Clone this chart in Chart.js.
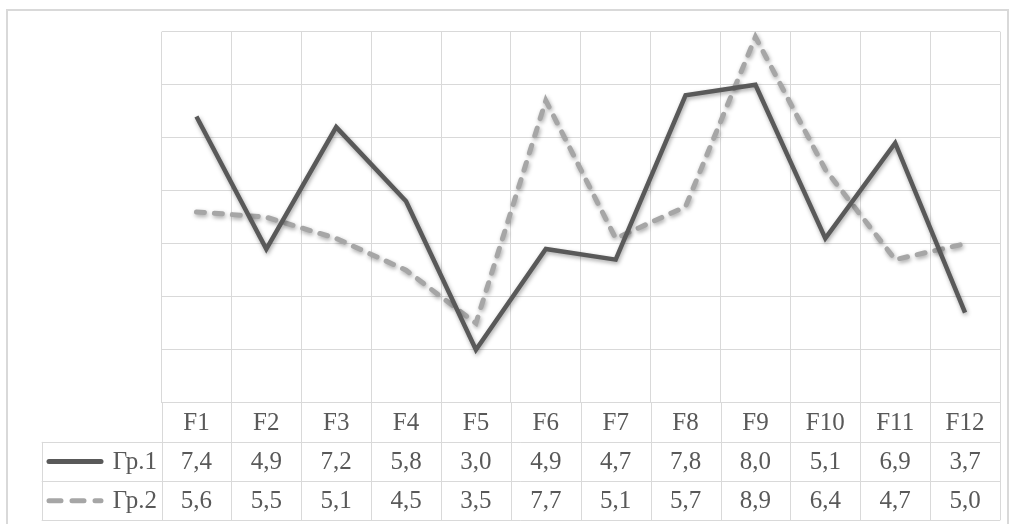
<!DOCTYPE html>
<html>
<head>
<meta charset="utf-8">
<script src="https://cdn.jsdelivr.net/npm/chart.js@4/dist/chart.umd.min.js"></script>
<style>
  html, body { margin: 0; padding: 0; background: #fff; }
  canvas { display: block; }
</style>
</head>
<body>
<canvas id="chart" width="1009" height="524"></canvas>
<script>
// категории и значения
const categories = ['F1', 'F2', 'F3', 'F4', 'F5', 'F6', 'F7', 'F8', 'F9', 'F10', 'F11', 'F12'];
const group1 = [7.4, 4.9, 7.2, 5.8, 3.0, 4.9, 4.7, 7.8, 8.0, 5.1, 6.9, 3.7];
const group2 = [5.6, 5.5, 5.1, 4.5, 3.5, 7.7, 5.1, 5.7, 8.9, 6.4, 4.7, 5.0];
const seriesNames = ['Гр.1', 'Гр.2'];

const gridColor = '#d9d9d9';
const textColor = '#595959';
const fontFamily = '"Liberation Serif", "Times New Roman", serif';

function fmt(v) {
    return v.toFixed(1).replace('.', ',');
}

// тень под линиями
const shadowPlugin = {
    id: 'lineShadow',
    beforeDatasetDraw(chart) {
        const ctx = chart.ctx;
        ctx.save();
        ctx.shadowColor = 'rgba(0,0,0,0.35)';
        ctx.shadowBlur = 4;
        ctx.shadowOffsetX = 1;
        ctx.shadowOffsetY = 2;
    },
    afterDatasetDraw(chart) {
        chart.ctx.restore();
    }
};

// таблица данных под графиком + рамка
const tablePlugin = {
    id: 'dataTable',
    afterDraw(chart) {
        const ctx = chart.ctx;
        const area = chart.chartArea;
        const xs = chart.scales.x;
        const n = categories.length;
        const step = (area.right - area.left) / n;
        const rowH = 39.2;
        const top = area.bottom;
        const legendLeft = 41.7;

        ctx.save();
        ctx.strokeStyle = gridColor;
        ctx.lineWidth = 1;

        // горизонтальные линии
        for (let r = 1; r <= 3; r++) {
            const y = Math.round(top + r * rowH) + 0.5;
            ctx.beginPath();
            ctx.moveTo(legendLeft, y);
            ctx.lineTo(area.right, y);
            ctx.stroke();
        }
        // вертикальные линии
        for (let i = 0; i <= n; i++) {
            const x = Math.round(area.left + i * step) + 0.5;
            ctx.beginPath();
            ctx.moveTo(x, top);
            ctx.lineTo(x, top + 3 * rowH);
            ctx.stroke();
        }
        ctx.beginPath();
        ctx.moveTo(Math.round(legendLeft) + 0.5, top + rowH);
        ctx.lineTo(Math.round(legendLeft) + 0.5, top + 3 * rowH);
        ctx.stroke();

        // текст
        ctx.fillStyle = textColor;
        ctx.font = '25px ' + fontFamily;
        ctx.textAlign = 'center';
        ctx.textBaseline = 'middle';
        categories.forEach((c, i) => {
            const x = xs.getPixelForValue(i);
            ctx.fillText(c, x, top + rowH * 0.5 + 1);
            ctx.fillText(fmt(group1[i]), x, top + rowH * 1.5 + 1);
            ctx.fillText(fmt(group2[i]), x, top + rowH * 2.5 + 1);
        });

        // легенда в таблице
        ctx.textAlign = 'right';
        ctx.fillText(seriesNames[0], 157, top + rowH * 1.5 + 1);
        ctx.fillText(seriesNames[1], 157, top + rowH * 2.5 + 1);

        ctx.lineCap = 'round';
        ctx.lineWidth = 5;
        ctx.strokeStyle = '#595959';
        ctx.beginPath();
        ctx.moveTo(49, top + rowH * 1.5);
        ctx.lineTo(101, top + rowH * 1.5);
        ctx.stroke();

        ctx.strokeStyle = '#a6a6a6';
        ctx.setLineDash([12, 11]);
        ctx.beginPath();
        ctx.moveTo(49, top + rowH * 2.5);
        ctx.lineTo(101, top + rowH * 2.5);
        ctx.stroke();
        ctx.setLineDash([]);

        // внешняя рамка
        ctx.lineCap = 'butt';
        ctx.lineWidth = 2;
        ctx.strokeStyle = gridColor;
        ctx.strokeRect(7, 10, 1001, 530);
        ctx.restore();
    }
};

const ctx = document.getElementById('chart').getContext('2d');
const chart = new Chart(ctx, {
    type: 'line',
    data: {
        labels: categories,
        datasets: [
            {
                label: seriesNames[0],
                data: group1,
                borderColor: '#595959',
                borderWidth: 4.5,
                borderJoinStyle: 'miter',
                pointRadius: 0,
                tension: 0,
                fill: false
            },
            {
                label: seriesNames[1],
                data: group2,
                borderColor: '#a6a6a6',
                borderWidth: 5,
                borderDash: [8, 10],
                borderCapStyle: 'round',
                pointRadius: 0,
                tension: 0,
                fill: false
            }
        ]
    },
    options: {
        responsive: false,
        animation: false,
        layout: {
            padding: { left: 161.5, right: 9, top: 31.7, bottom: 121.3 }
        },
        plugins: {
            legend: { display: false },
            tooltip: { enabled: false },
            title: { display: false }
        },
        scales: {
            x: {
                offset: true,
                grid: { offset: true, color: gridColor, lineWidth: 1, drawTicks: false },
                border: { display: false },
                ticks: { display: false }
            },
            y: {
                min: 2,
                max: 9,
                grid: { color: gridColor, lineWidth: 1, drawTicks: false },
                border: { display: false },
                ticks: { display: false, stepSize: 1 }
            }
        }
    },
    plugins: [shadowPlugin, tablePlugin]
});
</script>
</body>
</html>
